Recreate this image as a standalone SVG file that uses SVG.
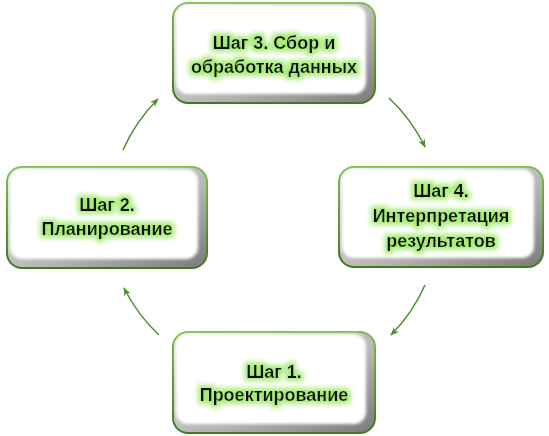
<svg xmlns="http://www.w3.org/2000/svg" width="549" height="436" viewBox="0 0 549 436">
<defs>
<linearGradient id="bev" x1="0" y1="0" x2="1" y2="1">
<stop offset="0" stop-color="#ececec"/>
<stop offset="0.6" stop-color="#b4b4b4"/>
<stop offset="1" stop-color="#7a7a7a"/>
</linearGradient>
<linearGradient id="edge" x1="0" y1="0" x2="0" y2="1">
<stop offset="0" stop-color="#7cbf4a"/>
<stop offset="1" stop-color="#3e7a22"/>
</linearGradient>
<filter id="soft" x="-5%" y="-5%" width="110%" height="110%">
<feGaussianBlur stdDeviation="1.5"/>
</filter>
<filter id="glow" x="-20%" y="-40%" width="140%" height="180%">
<feMorphology in="SourceAlpha" operator="dilate" radius="2.5" result="d"/>
<feGaussianBlur in="d" stdDeviation="2.5" result="b"/>
<feFlood flood-color="#a8ec78" flood-opacity="1"/>
<feComposite in2="b" operator="in" result="g"/>
<feMerge><feMergeNode in="g"/><feMergeNode in="SourceGraphic"/></feMerge>
</filter>
<marker id="ah" viewBox="0 0 10 8" refX="9" refY="4" markerWidth="9" markerHeight="7" markerUnits="userSpaceOnUse" orient="auto">
<path d="M0,0 L10,4 L0,8 L3,4 z" fill="#4e8f2e"/>
</marker>
</defs>
<style>
.outer{fill:url(#bev);stroke:url(#edge);stroke-width:2}
.inner{fill:#ffffff;filter:url(#soft)}
.t{font-family:"Liberation Sans","DejaVu Sans",sans-serif;font-size:18px;font-weight:bold;fill:#111;text-anchor:middle;filter:url(#glow)}
.c{fill:none;stroke:#4e8f2e;stroke-width:1.5;marker-end:url(#ah)}
</style>
<g id="connectors">
<path class="c" d="M123,150 A165,165 0 0 1 158,99"/>
<path class="c" d="M389,98 A165,165 0 0 1 425,147"/>
<path class="c" d="M425,285 A165,165 0 0 1 391,335"/>
<path class="c" d="M159,335 A165,165 0 0 1 124,288"/>
</g>
<g id="step3">
<rect class="outer" x="173" y="3" width="202" height="100" rx="15"/>
<rect class="inner" x="176" y="5" width="190" height="89" rx="12"/>
<text class="t" x="274" y="49">Шаг 3. Сбор и</text>
<text class="t" x="274" y="73">обработка данных</text>
</g>
<g id="step2">
<rect class="outer" x="7" y="167" width="200" height="101" rx="15"/>
<rect class="inner" x="10" y="169" width="188" height="90" rx="12"/>
<text class="t" x="107" y="211">Шаг 2.</text>
<text class="t" x="107" y="235">Планирование</text>
</g>
<g id="step4">
<rect class="outer" x="339" y="167" width="204" height="100" rx="15"/>
<rect class="inner" x="342" y="169" width="192" height="89" rx="12"/>
<text class="t" x="441" y="197">Шаг 4.</text>
<text class="t" x="441" y="222">Интерпретация</text>
<text class="t" x="441" y="247">результатов</text>
</g>
<g id="step1">
<rect class="outer" x="173" y="332" width="202" height="101" rx="15"/>
<rect class="inner" x="176" y="334" width="190" height="90" rx="12"/>
<text class="t" x="274" y="378">Шаг 1.</text>
<text class="t" x="274" y="401">Проектирование</text>
</g>
</svg>
